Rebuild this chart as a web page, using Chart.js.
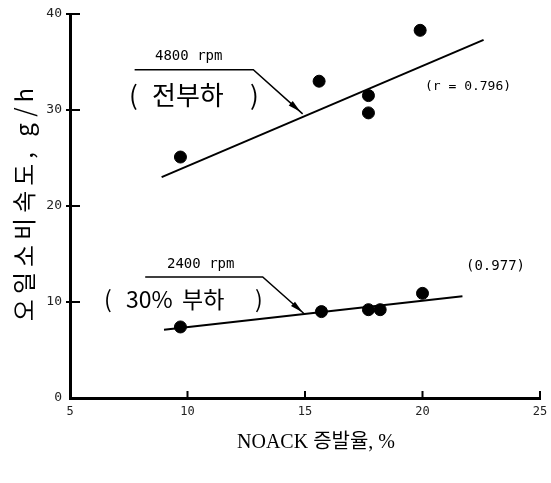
<!DOCTYPE html>
<html>
<head>
<meta charset="utf-8">
<script src="https://cdn.jsdelivr.net/npm/chart.js@4/dist/chart.umd.min.js"></script>
<style>
  html, body { margin: 0; padding: 0; background: #fff; }
  #wrap { width: 551px; height: 483px; position: relative; }
</style>
</head>
<body>
<div id="wrap"><canvas id="c"></canvas></div>
<script>
// measured points (NOACK %, g/h)
const full_x = [9.7, 15.6, 17.7, 17.7, 19.9];
const full_y = [25.1, 33.0, 31.5, 29.7, 38.3];
const part_x = [9.7, 15.7, 17.7, 18.2, 20.0];
const part_y = [7.4, 9.0, 9.2, 9.2, 10.9];
// regression lines, end points
const full_fit_x = [8.9, 22.6];
const full_fit_y = [23.0, 37.3];
const part_fit_x = [9.0, 21.7];
const part_fit_y = [7.1, 10.6];
const x_ticks = [5, 10, 15, 20, 25];
const y_ticks = [0, 10, 20, 30, 40];

const KR = '"Noto Sans CJK KR", sans-serif';
const MONO = '"DejaVu Sans Mono", monospace';

function pts(xs, ys) { return xs.map((x, i) => ({ x: x, y: ys[i] })); }

// annotations, leader lines and axis titles
const notes = {
    id: 'notes',
    afterDatasetsDraw(chart) {
        const ctx = chart.ctx;
        const sx = chart.scales.x, sy = chart.scales.y;
        const X = v => sx.getPixelForValue(v), Y = v => sy.getPixelForValue(v);
        const a = chart.chartArea;
        ctx.save();
        ctx.strokeStyle = '#000';
        ctx.fillStyle = '#000';

        // inner tick marks
        ctx.lineWidth = 2;
        y_ticks.forEach(v => {
            if (v === 0) return;
            ctx.beginPath(); ctx.moveTo(a.left - 4, Y(v)); ctx.lineTo(a.left + 10, Y(v)); ctx.stroke();
        });
        x_ticks.forEach(v => {
            if (v === 5) return;
            ctx.beginPath(); ctx.moveTo(X(v), a.bottom); ctx.lineTo(X(v), a.bottom - 7); ctx.stroke();
        });

        function leader(x0, x1, yh, tx, ty) {
            ctx.lineWidth = 1.5;
            ctx.beginPath();
            ctx.moveTo(X(x0), Y(yh));
            ctx.lineTo(X(x1), Y(yh));
            ctx.lineTo(X(tx), Y(ty));
            ctx.stroke();
            // arrow head a little short of the tip
            const ex = X(tx), ey = Y(ty);
            const dx = ex - X(x1), dy = ey - Y(yh);
            const L = Math.hypot(dx, dy), ux = dx / L, uy = dy / L;
            const hx = ex - ux * 3, hy = ey - uy * 3;
            const bx = hx - ux * 13, by = hy - uy * 13;
            ctx.beginPath();
            ctx.moveTo(hx, hy);
            ctx.lineTo(bx - uy * 3, by + ux * 3);
            ctx.lineTo(bx + uy * 3, by - ux * 3);
            ctx.closePath();
            ctx.fill();
        }
        leader(7.75, 12.8, 34.2, 14.9, 29.6);
        leader(8.2, 13.2, 12.6, 15.0, 8.7);

        ctx.textBaseline = 'middle';
        ctx.textAlign = 'left';
        ctx.font = '14px ' + MONO;
        ctx.fillText('4800 rpm', 155, 56);
        ctx.fillText('2400 rpm', 167, 264);
        ctx.font = '13px ' + MONO;
        ctx.fillText('(r = 0.796)', 425, 87);
        ctx.font = '14px ' + MONO;
        ctx.fillText('(0.977)', 466, 266);

        ctx.font = '26px ' + KR;
        ctx.fillText('(', 129, 95);
        ctx.fillText('전부하', 152, 95);
        ctx.fillText(')', 250, 95);
        ctx.font = '23px ' + KR;
        ctx.fillText('(', 104, 299);
        ctx.fillText('30%', 126, 299);
        ctx.fillText('부하', 182, 299);
        ctx.fillText(')', 255, 299);

        // axis titles
        ctx.textAlign = 'center';
        ctx.font = '20px "Liberation Serif", ' + KR;
        ctx.fillText('NOACK 증발율, %', 316, 443);
        ctx.translate(24, 202);
        ctx.rotate(-Math.PI / 2);
        ctx.font = '24px ' + KR;
        ctx.letterSpacing = '5px';
        ctx.fillText('오일소비속도, g/h', 0, 0);
        ctx.letterSpacing = '0px';
        ctx.restore();
    }
};

new Chart(document.getElementById('c'), {
    type: 'scatter',
    data: {
        datasets: [
            { data: pts(full_x, full_y), backgroundColor: '#000', borderColor: '#000', pointRadius: 6, pointHoverRadius: 6 },
            { data: pts(part_x, part_y), backgroundColor: '#000', borderColor: '#000', pointRadius: 6, pointHoverRadius: 6 },
            { type: 'line', data: pts(full_fit_x, full_fit_y), borderColor: '#000', borderWidth: 2, pointRadius: 0, fill: false },
            { type: 'line', data: pts(part_fit_x, part_fit_y), borderColor: '#000', borderWidth: 2, pointRadius: 0, fill: false }
        ]
    },
    options: {
        responsive: true,
        maintainAspectRatio: false,
        animation: false,
        layout: { autoPadding: false, padding: { top: 14, right: 11, bottom: 0, left: 0 } },
        plugins: { legend: { display: false }, tooltip: { enabled: false } },
        scales: {
            x: {
                type: 'linear', min: 5, max: 25,
                afterFit: s => { s.height = 85; s.paddingLeft = 0; s.paddingRight = 0; },
                afterBuildTicks: s => { s.ticks = x_ticks.map(v => ({ value: v })); },
                grid: { display: false, tickLength: 0 },
                border: { display: true, color: '#000', width: 3 },
                ticks: { color: '#222', font: { family: MONO, size: 12 }, padding: 7 }
            },
            y: {
                type: 'linear', min: 0, max: 40,
                afterFit: s => { s.width = 70; s.paddingTop = 0; s.paddingBottom = 0; },
                afterBuildTicks: s => { s.ticks = y_ticks.map(v => ({ value: v })); },
                grid: { display: false, tickLength: 0 },
                border: { display: true, color: '#000', width: 3 },
                ticks: { color: '#222', font: { family: MONO, size: 13 }, padding: 8 }
            }
        }
    },
    plugins: [notes]
});
</script>
</body>
</html>
